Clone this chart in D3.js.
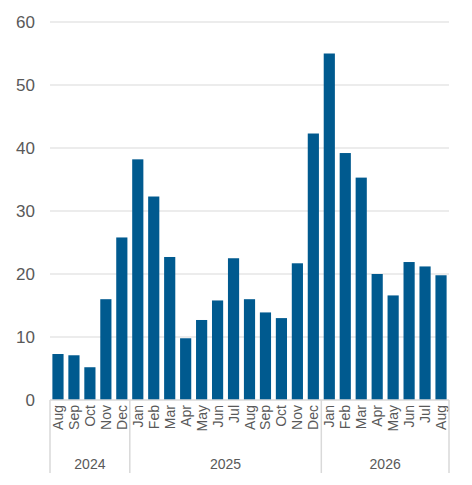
<!DOCTYPE html>
<html><head><meta charset="utf-8">
<script src="https://cdn.jsdelivr.net/npm/d3@7"></script>
<style>body{margin:0;background:#fff}</style>
</head><body><svg></svg>
<script>
const months = ["Aug","Sep","Oct","Nov","Dec","Jan","Feb","Mar","Apr","May","Jun","Jul","Aug","Sep","Oct","Nov","Dec","Jan","Feb","Mar","Apr","May","Jun","Jul","Aug"];
const values = [7.3,7.1,5.2,16,25.8,38.2,32.3,22.7,9.8,12.7,15.8,22.5,16,13.9,13,21.7,42.3,55,39.2,35.3,20,16.6,21.9,21.2,19.8];
const years = [{label:"2024", from:0, to:5},{label:"2025", from:5, to:17},{label:"2026", from:17, to:25}];
const yTicks = [0,10,20,30,40,50,60];

const width = 472, height = 485;
const margin = {top: 22, right: 23, bottom: 85, left: 50};

const svg = d3.select("svg").attr("width", width).attr("height", height)
    .style("font-family", "Liberation Sans, Arial, sans-serif");

const idx = months.map((d, i) => i);
const x = d3.scaleBand().domain(idx).range([margin.left, width - margin.right]).paddingInner(0.3).paddingOuter(0.15);
const y = d3.scaleLinear().domain([0, 60]).range([height - margin.bottom, margin.top]);

// grid
svg.append("g").selectAll("line").data(yTicks.slice(1)).enter().append("line")
    .attr("x1", margin.left).attr("x2", width - margin.right)
    .attr("y1", d => y(d)).attr("y2", d => y(d))
    .attr("stroke", "#d9d9d9");

svg.append("g").selectAll("text").data(yTicks).enter().append("text")
    .attr("x", 35).attr("y", d => y(d)).attr("dy", "0.35em")
    .attr("text-anchor", "end").attr("font-size", 17).attr("fill", "#595959")
    .text(d => d);

svg.append("g").selectAll("rect").data(values).enter().append("rect")
    .attr("x", (d, i) => x(i)).attr("width", x.bandwidth())
    .attr("y", d => y(d)).attr("height", d => y(0) - y(d))
    .attr("fill", "#005a8f");

// axis line
svg.append("line").attr("x1", margin.left).attr("x2", width - margin.right)
    .attr("y1", y(0)).attr("y2", y(0)).attr("stroke", "#d9d9d9").attr("stroke-width", 1.5);

const step = x.step();
const bx = i => margin.left + (width - margin.right - margin.left) * i / months.length;

svg.append("g").selectAll("text").data(months).enter().append("text")
    .attr("transform", (d, i) => `translate(${x(i) + x.bandwidth() / 2 + 5},${y(0) + 5}) rotate(-90)`)
    .attr("text-anchor", "end").attr("font-size", 14).attr("fill", "#595959")
    .text(d => d);

const bounds = [0, 5, 17, 25];
svg.append("g").selectAll("line").data(bounds).enter().append("line")
    .attr("x1", d => bx(d)).attr("x2", d => bx(d))
    .attr("y1", y(0)).attr("y2", 473)
    .attr("stroke", "#d9d9d9").attr("stroke-width", 1.5);

svg.append("g").selectAll("text").data(years).enter().append("text")
    .attr("x", d => (bx(d.from) + bx(d.to)) / 2).attr("y", 469)
    .attr("text-anchor", "middle").attr("font-size", 14).attr("fill", "#595959")
    .text(d => d.label);
</script></body></html>
